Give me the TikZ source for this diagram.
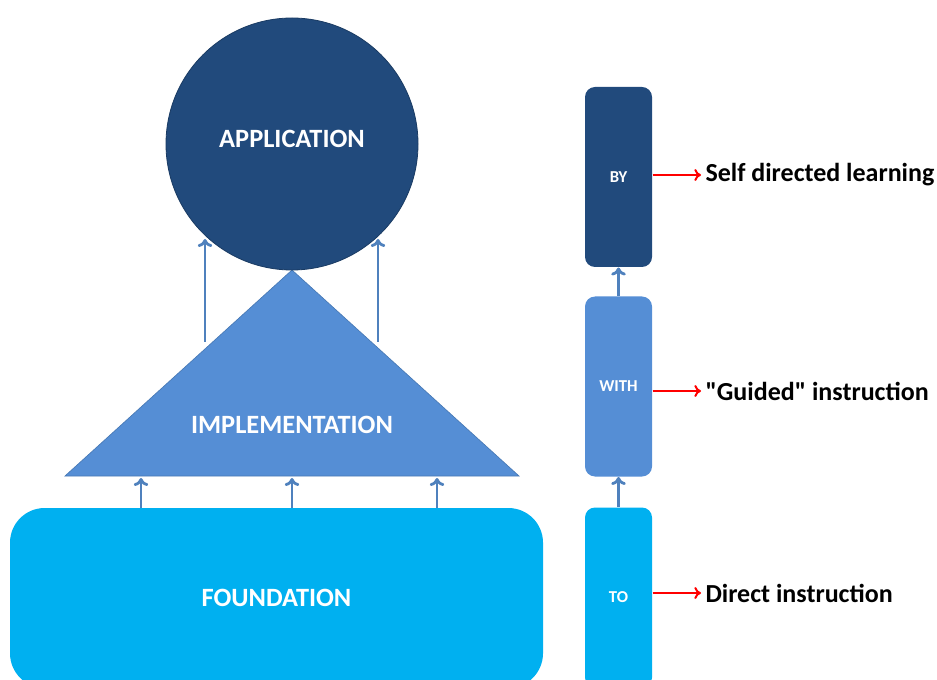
\documentclass[tikz,border=0pt]{standalone}
\usepackage{fontspec}
\setmainfont{Carlito}[Ligatures=TeXOff]
\usetikzlibrary{arrows.meta}

\definecolor{navy}{RGB}{33,74,124}
\definecolor{midblue}{RGB}{85,142,213}
\definecolor{skyblue}{RGB}{0,176,240}
\definecolor{linkblue}{RGB}{79,129,189}

\tikzset{every picture/.style={line width=0.75pt}}
\tikzset{
  bigtext/.style={text=white, font=\bfseries\fontsize{19.8}{23}\selectfont},
  smalltext/.style={text=white, font=\bfseries\fontsize{12.5}{15}\selectfont},
  sidetext/.style={text=black, font=\bfseries\fontsize{19.5}{23}\selectfont, anchor=west, inner sep=3pt},
  stagebox/.style={rectangle, rounded corners=7.5pt, minimum width=50.25pt, minimum height=135pt, inner sep=0pt},
  link/.style={draw=linkblue, line width=2.1pt, -{To[length=6pt,width=11pt]}},
  redlink/.style={draw=red, line width=1.5pt, -{To[length=5pt,width=9pt]}}
}

\begin{document}
\begin{tikzpicture}[x=0.75pt,y=0.75pt,yscale=-1,xscale=1]
\useasboundingbox (0,0) rectangle (937,680);
\clip (0,0) rectangle (937,680);

%Foundation
\node (found) [rectangle, rounded corners=26pt, fill=skyblue, minimum width=399.75pt, minimum height=135pt, bigtext] at (276.5,598) {FOUNDATION};

%Triangle
\coordinate (bl) at (65,476);
\coordinate (apex) at (292,270);
\coordinate (br) at (519,476);
\draw [draw=midblue!85!black, line width=0.5pt, fill=midblue] (bl) -- (apex) -- (br) -- cycle;
\node (impl) [bigtext] at (292,425) {IMPLEMENTATION};

%Application
\node (app) [circle, draw=navy!80!black, line width=0.6pt, fill=navy, minimum size=189pt, inner sep=0pt, bigtext] at (292,144) {};
\node (apptext) [bigtext] at (292,139) {APPLICATION};

%Straight Lines foundation to triangle
\foreach \x [count=\i] in {141,292,437} {
  \coordinate (u\i) at (\x,478);
  \draw [link] (found.north -| u\i) -- (u\i);
}
%Straight Lines triangle to circle
\coordinate (t1) at (205,342);
\coordinate (c1) at (205,239);
\coordinate (t2) at (378,342);
\coordinate (c2) at (378,239);
\draw [link] (t1) -- (c1);
\draw [link] (t2) -- (c2);

%Stage boxes
\node (by) [stagebox, fill=navy, smalltext] at (618.5,177) {BY};
\node (with) [stagebox, fill=midblue, smalltext] at (618.5,386.5) {WITH};
\node (to) [stagebox, fill=skyblue, smalltext] at (618.5,597.5) {TO};

\draw [link] (with.north) -- (by.south);
\draw [link] (to.north) -- (with.south);

% Text Node
\node (lby) [sidetext] at (701,175) {Self directed learning};
% Text Node
\node (lwith) [sidetext] at (701,391) {"Guided" instruction};
% Text Node
\node (lto) [sidetext] at (701,593) {Direct instruction};

\draw [redlink] (by.east |- lby.west) -- (lby.west);
\draw [redlink] (with.east |- lwith.west) -- (lwith.west);
\draw [redlink] (to.east |- lto.west) -- (lto.west);

\end{tikzpicture}
\end{document}
